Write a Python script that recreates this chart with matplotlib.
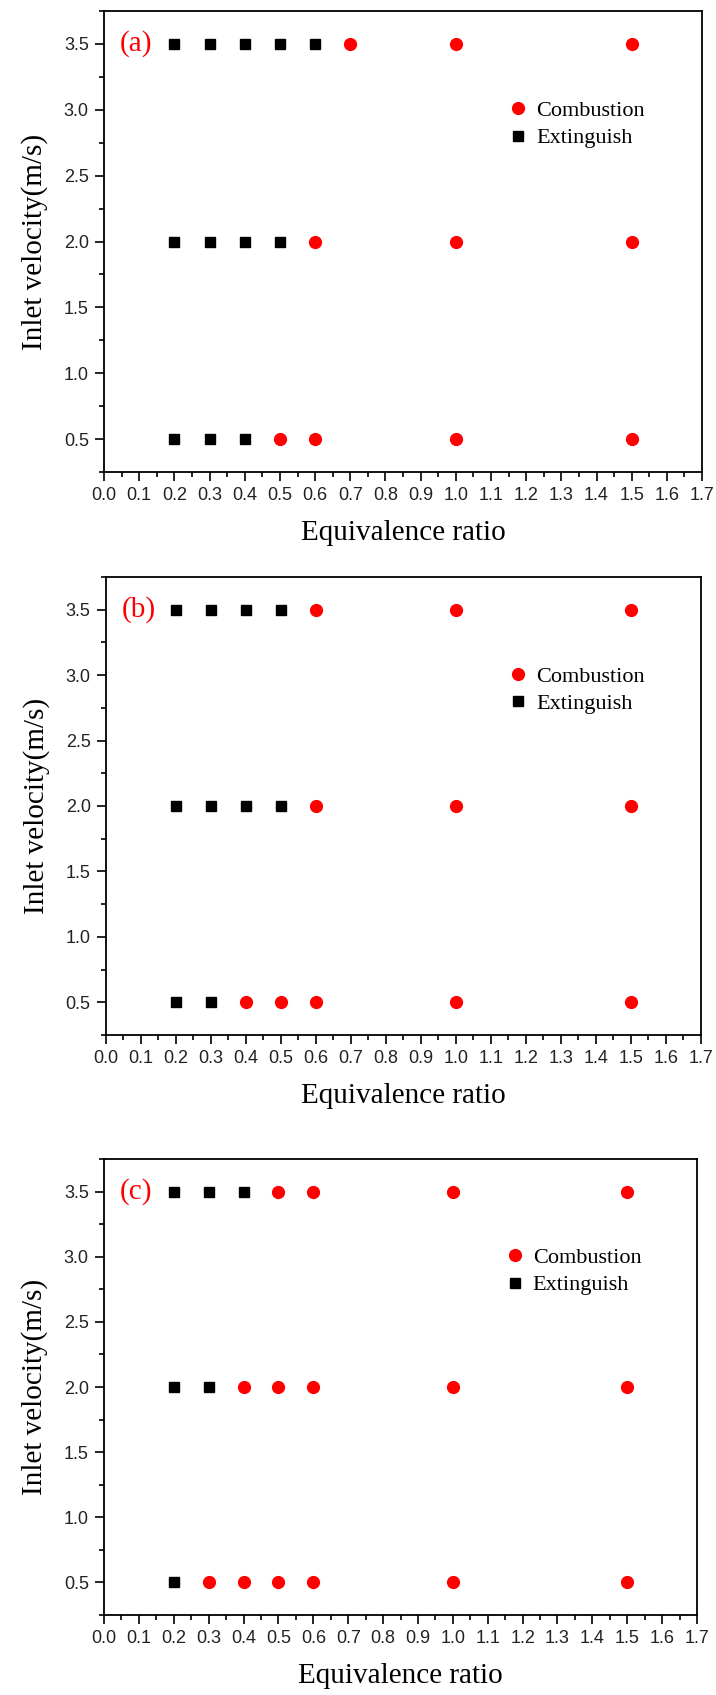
import matplotlib
matplotlib.use('Agg')
import matplotlib.pyplot as plt
from matplotlib.ticker import MultipleLocator

# panel (a)
a_ext_x = [0.2, 0.3, 0.4, 0.5, 0.6, 0.2, 0.3, 0.4, 0.5, 0.2, 0.3, 0.4]
a_ext_y = [3.5, 3.5, 3.5, 3.5, 3.5, 2.0, 2.0, 2.0, 2.0, 0.5, 0.5, 0.5]
a_comb_x = [0.7, 1.0, 1.5, 0.6, 1.0, 1.5, 0.5, 0.6, 1.0, 1.5]
a_comb_y = [3.5, 3.5, 3.5, 2.0, 2.0, 2.0, 0.5, 0.5, 0.5, 0.5]

# panel (b)
b_ext_x = [0.2, 0.3, 0.4, 0.5, 0.2, 0.3, 0.4, 0.5, 0.2, 0.3]
b_ext_y = [3.5, 3.5, 3.5, 3.5, 2.0, 2.0, 2.0, 2.0, 0.5, 0.5]
b_comb_x = [0.6, 1.0, 1.5, 0.6, 1.0, 1.5, 0.4, 0.5, 0.6, 1.0, 1.5]
b_comb_y = [3.5, 3.5, 3.5, 2.0, 2.0, 2.0, 0.5, 0.5, 0.5, 0.5, 0.5]

# panel (c)
c_ext_x = [0.2, 0.3, 0.4, 0.2, 0.3, 0.2]
c_ext_y = [3.5, 3.5, 3.5, 2.0, 2.0, 0.5]
c_comb_x = [0.5, 0.6, 1.0, 1.5, 0.4, 0.5, 0.6, 1.0, 1.5,
            0.3, 0.4, 0.5, 0.6, 1.0, 1.5]
c_comb_y = [3.5, 3.5, 3.5, 3.5, 2.0, 2.0, 2.0, 2.0, 2.0,
            0.5, 0.5, 0.5, 0.5, 0.5, 0.5]

panel_tags = ['(a)', '(b)', '(c)']
x_label = 'Equivalence ratio'
y_label = 'Inlet velocity(m/s)'

serif = ['Liberation Serif', 'DejaVu Serif']
sans = ['Liberation Sans', 'DejaVu Sans']

fig = plt.figure(figsize=(7.16, 16.95), dpi=100)

rects = [[0.1453, 0.7215, 0.8352, 0.2720],
         [0.1480, 0.3894, 0.8310, 0.2702],
         [0.1453, 0.0472, 0.8282, 0.2690]]

data = [(a_comb_x, a_comb_y, a_ext_x, a_ext_y),
        (b_comb_x, b_comb_y, b_ext_x, b_ext_y),
        (c_comb_x, c_comb_y, c_ext_x, c_ext_y)]

for rect, (cx, cy, ex, ey), tag in zip(rects, data, panel_tags):
    ax = fig.add_axes(rect)
    ax.plot(cx, cy, 'o', color='red', mec='red', ms=8.5, ls='none',
            label='Combustion')
    ax.plot(ex, ey, 's', color='black', mec='black', ms=7.5, ls='none',
            label='Extinguish')

    ax.set_xlim(0, 1.7)
    ax.set_ylim(0.25, 3.75)
    ax.xaxis.set_major_locator(MultipleLocator(0.1))
    ax.xaxis.set_minor_locator(MultipleLocator(0.05))
    ax.yaxis.set_major_locator(MultipleLocator(0.5))
    ax.yaxis.set_minor_locator(MultipleLocator(0.25))
    ax.set_yticks([0.5, 1.0, 1.5, 2.0, 2.5, 3.0, 3.5])

    ax.tick_params(which='both', direction='out', top=False, right=False,
                   width=1.2, color='black')
    ax.tick_params(which='major', length=6.5)
    ax.tick_params(which='minor', length=3.5)
    ax.tick_params(axis='x', pad=4)
    ax.tick_params(axis='y', pad=4.5)
    for lab in ax.get_xticklabels() + ax.get_yticklabels():
        lab.set_family(sans)
        lab.set_fontsize(13)
        lab.set_color('#222222')

    for sp in ax.spines.values():
        sp.set_linewidth(1.3)

    ax.set_xlabel(x_label, family=serif, fontsize=21, labelpad=12)
    ax.set_ylabel(y_label, family=serif, fontsize=21, labelpad=11)

    ax.text(0.045, 3.5, tag, color='red', family=serif, fontsize=21,
            ha='left', va='center')

    ax.legend(loc='upper left', bbox_to_anchor=(0.6555, 0.83),
              frameon=False, borderpad=0, handlelength=1.0,
              handletextpad=0.3, labelspacing=0.3,
              prop={'family': serif, 'size': 16})

fig.savefig('out.png', dpi=100)
